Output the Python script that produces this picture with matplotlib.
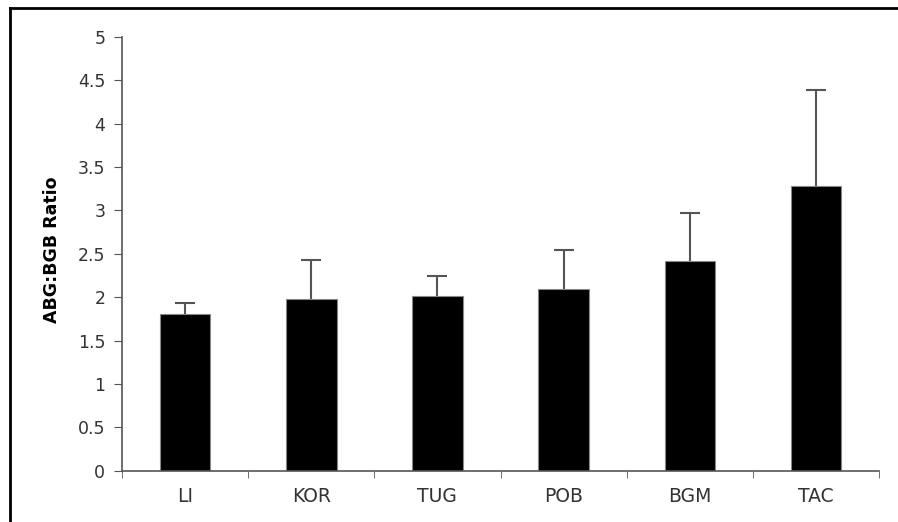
import numpy as np
import matplotlib.pyplot as plt
from matplotlib.lines import Line2D

groups = ['LI', 'KOR', 'TUG', 'POB', 'BGM', 'TAC']
ratio = [1.81, 1.98, 2.01, 2.10, 2.42, 3.28]
err_up = [0.12, 0.45, 0.24, 0.44, 0.55, 1.11]

fig = plt.figure(figsize=(8.98, 5.22), dpi=100)
ax = fig.add_axes([0.1359, 0.0983, 0.8429, 0.8308])

x = np.arange(len(groups))
ax.bar(x, ratio, 0.4, color='black', edgecolor='#888888', linewidth=0.8, zorder=2)
eb = ax.errorbar(x, ratio, yerr=[np.zeros(len(groups)), err_up], fmt='none',
                 ecolor='#555555', elinewidth=1.5, capsize=7, capthick=1.5, zorder=1)
# only the upper cap is shown
eb[1][0].set_visible(False)

ax.set_xlim(-0.5, len(groups) - 0.5)
ax.set_ylim(0, 5)
ax.set_yticks(np.arange(0, 5.01, 0.5))
ax.set_yticklabels(['0', '0.5', '1', '1.5', '2', '2.5', '3', '3.5', '4', '4.5', '5'])
ax.set_xticks(x)
ax.set_xticklabels(groups)
ax.set_xticks(np.arange(-0.5, len(groups)), minor=True)
ax.tick_params(axis='x', which='major', length=0, pad=12, labelsize=13.5, colors='#333333')
ax.tick_params(axis='x', which='minor', length=5, color='#555555')
ax.tick_params(axis='y', length=6, pad=6, color='#555555', labelsize=12.5, labelcolor='#333333')

for s in ['top', 'right']:
    ax.spines[s].set_visible(False)
for s in ['left', 'bottom']:
    ax.spines[s].set_color('#555555')
    ax.spines[s].set_linewidth(1.2)

ax.set_ylabel('ABG:BGB Ratio', fontsize=12.5, fontweight='bold')
ax.yaxis.set_label_coords(-0.081, 0.51)

# frame lines at top and left of the image
fig.add_artist(Line2D([10 / 898, 10 / 898], [0, 1 - 8 / 522], color='black', lw=2))
fig.add_artist(Line2D([10 / 898, 1], [1 - 8 / 522, 1 - 8 / 522], color='black', lw=2))

fig.savefig('out.png', dpi=100)
